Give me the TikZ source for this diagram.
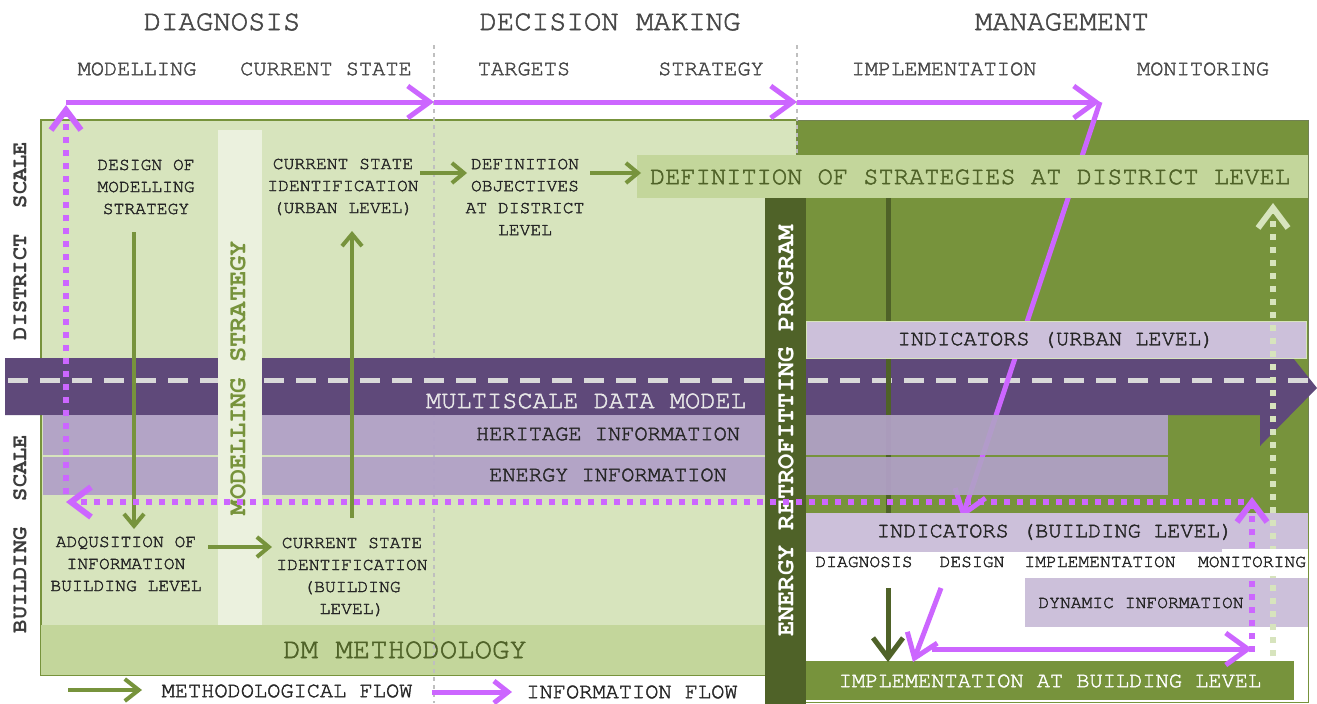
\documentclass[tikz,border=0pt]{standalone}
\usepackage{fontspec}
\setmainfont{texgyrecursor}[Extension=.otf, UprightFont=*-regular, BoldFont=*-bold, UprightFeatures={FakeBold=1.8}]
\usetikzlibrary{arrows.meta}
\definecolor{lgreen}{HTML}{D7E4BD}
\definecolor{pgreen}{HTML}{EBF1DE}
\definecolor{mgreen}{HTML}{C3D69B}
\definecolor{ogreen}{HTML}{77933C}
\definecolor{dgreen}{HTML}{4F6228}
\definecolor{dpurple}{HTML}{5F497A}
\definecolor{mpurple}{HTML}{B1A0C7}
\definecolor{lpurple}{HTML}{CCC0DA}
\definecolor{infoc}{HTML}{CC66FF}
\definecolor{txtc}{HTML}{262626}
\definecolor{dashc}{HTML}{D9D9D9}
\definecolor{gdot}{HTML}{BFBFBF}
\tikzset{
  region/.style={anchor=north west, inner sep=0pt, outer sep=0pt},
  tsmall/.style={font=\fontsize{18}{22}\selectfont, text=txtc, align=center, inner sep=0pt},
  tmed/.style={font=\fontsize{22}{26}\selectfont, text=txtc, align=center, inner sep=0pt},
  tbig/.style={font=\fontsize{25.4}{30}\selectfont, align=center, inner sep=0pt},
  thead/.style={font=\fontsize{29}{34}\selectfont, text=txtc!85, inner sep=0pt},
  vlab/.style={font=\bfseries\fontsize{22}{26}\selectfont, text=txtc!90, rotate=90, inner sep=0pt},
  vbig/.style={font=\bfseries\fontsize{25.4}{30}\selectfont, rotate=90, inner sep=0pt},
  methflow/.style={draw=ogreen, line width=4pt, -{Straight Barb[length=12pt,width=20pt]}},
  infoflow/.style={draw=infoc, line width=5pt, -{Straight Barb[length=22pt,width=32pt]}},
  infodot/.style={draw=infoc, line width=6pt, dash pattern=on 6.5pt off 6.5pt, -{Straight Barb[length=20pt,width=30pt]}},
  greendot/.style={draw=lgreen, line width=6pt, dash pattern=on 6.5pt off 6.5pt, -{Straight Barb[length=20pt,width=30pt]}},
  graydot/.style={draw=gdot, line width=2.5pt, dash pattern=on 4pt off 4pt},
}
\begin{document}
\begin{tikzpicture}[x=1pt,y=-1pt]
\path[use as bounding box, fill=white] (0,0) rectangle (1317,704);

% ---- background regions
\node[region, fill=lgreen, draw=ogreen, line width=1.5pt, minimum width=756pt, minimum height=555pt] (mainbox) at (41,120) {};
\node[region, fill=mgreen, minimum width=725pt, minimum height=50pt] (dmbar) at (41,625) {};
\node[region, draw=ogreen, line width=1pt, minimum width=511pt, minimum height=582pt] (mgframe) at (797,120) {};
\node[region, fill=ogreen, draw=dgreen!80, line width=1pt, minimum width=511pt, minimum height=393pt] (mgbox) at (797,120) {};

% ---- gray dotted phase separators
\coordinate (s1t) at (434,45); \coordinate (s1b) at (434,703);
\coordinate (s2t) at (797,45); \coordinate (s2b) at (797,155);
\draw[graydot] (s1t) -- (s1b);
\draw[graydot] (s2t) -- (s2b);

% ---- multiscale data model band
\fill[dpurple] (5,358) -- (1293,358) -- (1317,388) -- (1260,446) -- (1260,415) -- (5,415) -- cycle;
\coordinate (d1) at (8,380); \coordinate (d2) at (1310,380);
\draw[dashc, line width=5pt, dash pattern=on 20pt off 12pt] (d1) -- (d2);

% ---- dark green line
\coordinate (g1) at (888,198); \coordinate (g2) at (888,513);
\draw[dgreen, line width=5pt] (g1) -- (g2);

% ---- violet top flow
\coordinate (v0) at (66,102);
\coordinate (v1) at (434,102);
\coordinate (v2) at (797,102);
\coordinate (v3) at (1100,102);
\coordinate (v4) at (962,518);
\draw[infoflow] (v3) -- (v4);

% ---- boxes
\node[region, fill=mgreen, minimum width=671pt, minimum height=43pt] (defbar) at (637,155) {};
\node[tbig, text=dgreen] (defbartxt) at (970,177) {DEFINITION OF STRATEGIES AT DISTRICT LEVEL};
\node[region, fill=lpurple, draw=lgreen, line width=1pt, minimum width=500pt, minimum height=37pt] (indurban) at (806,321) {};
\node[tmed] (indurbantxt) at (1056,340) {INDICATORS (URBAN LEVEL)};
\node[region, fill=mpurple, fill opacity=0.93, minimum width=1125pt, minimum height=40pt] (herit) at (43,415) {};
\node[region, fill=mpurple, fill opacity=0.93, minimum width=1125pt, minimum height=38pt] (energy) at (43,457) {};
\node[tmed] (herittxt) at (608,434) {HERITAGE INFORMATION};
\node[tmed] (energytxt) at (608,475) {ENERGY INFORMATION};
\node[tbig, text=dashc!60!white] (mdm) at (586,401) {MULTISCALE DATA MODEL};

% modelling strategy strip
\node[region, fill=pgreen, minimum width=44pt, minimum height=495pt] (mstrip) at (218,130) {};
\node[vbig, text=ogreen] (mstriptxt) at (238,378) {MODELLING STRATEGY};

% energy retrofitting bar
\node[region, fill=dgreen, minimum width=41pt, minimum height=506pt] (erbar) at (765,198) {};
\node[vbig, text=white] (erbartxt) at (786,431) {ENERGY RETROFITTING PROGRAM};

% building level boxes
\node[region, fill=lpurple, minimum width=502pt, minimum height=39pt] (indbuild) at (806,513) {};
\node[tmed] (indbuildtxt) at (1055,532) {INDICATORS (BUILDING LEVEL)};
\node[region, fill=lpurple, minimum width=283pt, minimum height=49pt] (dynbox) at (1025,578) {};
\node[tsmall] (dyntxt) at (1141,603) {DYNAMIC INFORMATION};
\node[region, fill=ogreen, minimum width=488pt, minimum height=39pt] (implbox) at (806,661) {};
\node[tmed, text=white] (impltxt) at (1050,681) {IMPLEMENTATION AT BUILDING LEVEL};

% ---- headings
\node[thead] (hdiag) at (222,22) {DIAGNOSIS};
\node[thead] (hdec) at (610,22) {DECISION MAKING};
\node[thead] (hman) at (1062,22) {MANAGEMENT};
\node[tmed, text=txtc!85] (smod) at (137,69) {MODELLING};
\node[tmed, text=txtc!85] (scur) at (326,69) {CURRENT STATE};
\node[tmed, text=txtc!85] (star) at (524,69) {TARGETS};
\node[tmed, text=txtc!85] (sstr) at (711,69) {STRATEGY};
\node[tmed, text=txtc!85] (simp) at (944,69) {IMPLEMENTATION};
\node[tmed, text=txtc!85] (smon) at (1203,69) {MONITORING};

% ---- scale labels
\node[vlab] (dscale) at (20,241) {DISTRICT\ \ SCALE};
\node[vlab] (bscale) at (20,534) {BUILDING\ \ SCALE};

% ---- process texts
\node[tsmall] (designmod) at (146,187) {DESIGN OF\\MODELLING\\STRATEGY};
\node[tsmall] (cursurban) at (343,187) {CURRENT STATE\\IDENTIFICATION\\(URBAN LEVEL)};
\node[tsmall] (defobj) at (525,197) {DEFINITION\\OBJECTIVES\\AT DISTRICT\\LEVEL};
\node[tsmall] (adq) at (126,564) {ADQUSITION OF\\INFORMATION\\BUILDING LEVEL};
\node[tsmall] (cursbuild) at (352,577) {CURRENT STATE\\IDENTIFICATION\\(BUILDING\\LEVEL)};
\node[tmed, text=dgreen] (dmtxt) at (405,650) {\fontsize{29}{34}\selectfont DM METHODOLOGY};

% ---- building-level phase labels
\node[tsmall] (pdiag) at (864,562) {DIAGNOSIS};
\node[tsmall] (pdes) at (972,562) {DESIGN};
\node[tsmall] (pimp) at (1100,562) {IMPLEMENTATION};

% ---- methodological flow arrows
\coordinate (m1s) at (134,232); \coordinate (m1e) at (134,529);
\coordinate (m2s) at (352,518); \coordinate (m2e) at (352,231);
\coordinate (m3s) at (420,173); \coordinate (m3e) at (467,173);
\coordinate (m4s) at (590,173); \coordinate (m4e) at (641,173);
\coordinate (m5s) at (208,547); \coordinate (m5e) at (272,547);
\draw[methflow] (m1s) -- (m1e);
\draw[methflow] (m2s) -- (m2e);
\draw[methflow] (m3s) -- (m3e);
\draw[methflow] (m4s) -- (m4e);
\draw[methflow] (m5s) -- (m5e);

% ---- information flows
\draw[infoflow] (v0) -- (v1);
\draw[infoflow] (v1) -- (v2);
\draw[infoflow] (v2) -- (v3);
\coordinate (h1) at (1244,502); \coordinate (h2) at (66,502);
\draw[infodot] (h1) -- (h2);
\coordinate (u1) at (66,494); \coordinate (u2) at (66,105);
\draw[infodot] (u1) -- (u2);
\coordinate (r1) at (1252,652); \coordinate (r2) at (1252,497);
\draw[infodot] (r1) -- (r2);
\coordinate (q1) at (1273,656); \coordinate (q2) at (1273,203);
\draw[greendot] (q1) -- (q2);

% bottom-right arrows
\coordinate (k1) at (888,588); \coordinate (k2) at (888,662);
\draw[dgreen, line width=5pt, -{Straight Barb[length=20pt,width=30pt]}] (k1) -- (k2);
\coordinate (w1) at (941,588); \coordinate (w2) at (913,662);
\draw[infoflow] (w1) -- (w2);
\coordinate (w3) at (932,649); \coordinate (w4) at (1252,649);
\draw[infoflow] (w3) -- (w4);

% monitoring label with white backing
\fill[white] (1222,549) rectangle (1308,576);
\node[tsmall] (pmon) at (1252,562) {MONITORING};

% ---- legend
\coordinate (lg1) at (68,690); \coordinate (lg2) at (142,690);
\draw[draw=ogreen, line width=4pt, -{Straight Barb[length=14pt,width=22pt]}] (lg1) -- (lg2);
\node[tmed] (lgmeth) at (287,691) {METHODOLOGICAL FLOW};
\coordinate (li1) at (432,692); \coordinate (li2) at (512,692);
\draw[draw=infoc, line width=5pt, -{Straight Barb[length=14pt,width=22pt]}] (li1) -- (li2);
\node[tmed] (lginfo) at (632,692) {INFORMATION FLOW};
\end{tikzpicture}
\end{document}
